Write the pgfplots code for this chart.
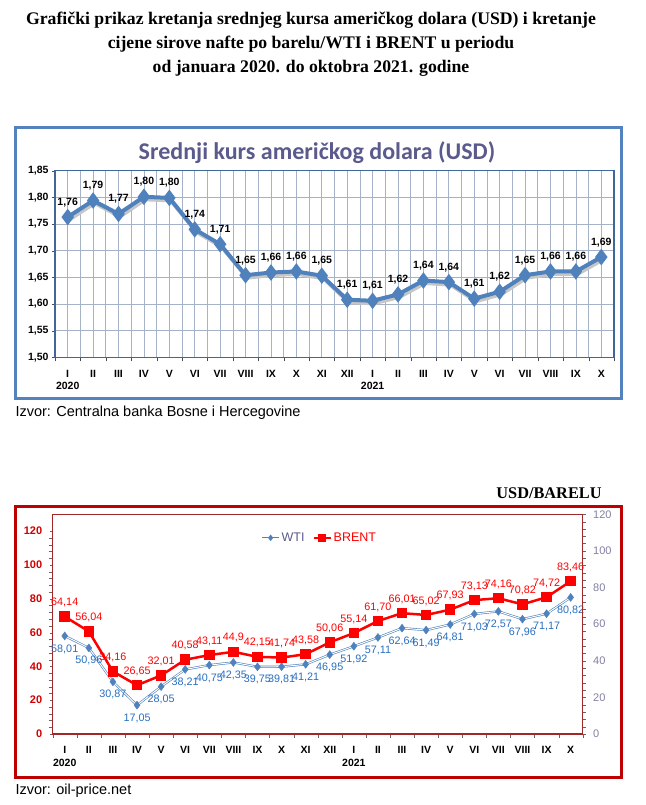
\documentclass[border=0pt]{standalone}
\usepackage{pgfplots}
\pgfplotsset{compat=1.18}
\usepackage{pgfplotstable}
\usepackage{fontspec}
\setmainfont{Liberation Sans}
\newfontfamily\titlefont{Liberation Serif}
\newfontfamily\calfont{Carlito}

\definecolor{usdblue}{RGB}{79,129,189}
\definecolor{framblue}{RGB}{84,130,190}
\definecolor{gridblue}{RGB}{165,178,200}
\definecolor{titlepurple}{RGB}{90,90,140}
\definecolor{framered}{RGB}{190,0,0}
\definecolor{axisred}{RGB}{160,40,40}
\definecolor{brentred}{RGB}{255,0,0}
\definecolor{wtiblue}{RGB}{79,129,189}
\definecolor{wtilabel}{RGB}{40,110,190}
\definecolor{rightgray}{RGB}{128,128,160}
\definecolor{leftred}{RGB}{210,0,0}

% srednji kurs USD (KM)
\pgfplotstableread{
x y lab
1 1.763 1,76
2 1.794 1,79
3 1.769 1,77
4 1.801 1,80
5 1.799 1,80
6 1.740 1,74
7 1.712 1,71
8 1.654 1,65
9 1.659 1,66
10 1.661 1,66
11 1.653 1,65
12 1.608 1,61
13 1.606 1,61
14 1.618 1,62
15 1.644 1,64
16 1.641 1,64
17 1.610 1,61
18 1.623 1,62
19 1.654 1,65
20 1.661 1,66
21 1.661 1,66
22 1.688 1,69
}\usdtable

\pgfplotstableread{
x y lab
1 58.01 58,01
2 50.96 50,96
3 30.87 30,87
4 17.05 17,05
5 28.05 28,05
6 38.21 38,21
7 40.75 40,75
8 42.35 42,35
9 39.75 39,75
10 39.81 39,81
11 41.21 41,21
12 46.95 46,95
13 51.92 51,92
14 57.11 57,11
15 62.64 62,64
16 61.49 61,49
17 64.81 64,81
18 71.03 71,03
19 72.57 72,57
20 67.96 67,96
21 71.17 71,17
22 80.82 80,82
}\wtitable

\pgfplotstableread{
x y lab
1 64.14 64,14
2 56.04 56,04
3 34.16 34,16
4 26.65 26,65
5 32.01 32,01
6 40.58 40,58
7 43.11 43,11
8 44.90 44,9
9 42.15 42,15
10 41.74 41,74
11 43.58 43,58
12 50.06 50,06
13 55.14 55,14
14 61.70 61,70
15 66.01 66,01
16 65.02 65,02
17 67.93 67,93
18 73.13 73,13
19 74.16 74,16
20 70.82 70,82
21 74.72 74,72
22 83.46 83,46
}\brenttable

\pgfplotsset{
  months/.style={
    xmin=0.5, xmax=22.5,
    xtick={1,...,22},
    xticklabels={{I\\2020},II,III,IV,V,VI,VII,VIII,IX,X,XI,XII,{I\\2021},II,III,IV,V,VI,VII,VIII,IX,X},
    xticklabel style={align=center, font=\fontsize{10.5}{12.5}\selectfont\bfseries, yshift=-6pt},
    major x tick style={draw=none},
    minor xtick={0.5,1.5,...,22.5},
    tick align=outside,
    major tick length=3pt,
    minor tick length=4pt,
  },
}

\begin{document}
\begin{tikzpicture}
\path[use as bounding box] (0,0) rectangle (645pt,-805pt);

\node[align=center, font=\titlefont\bfseries\fontsize{17.7}{24}\selectfont] at (311pt,-44pt)
  {Grafički prikaz kretanja srednjeg kursa američkog dolara (USD) i kretanje\\
   cijene sirove nafte po barelu/WTI i BRENT u periodu\\
   od januara 2020. do oktobra 2021. godine};

% ---- gornji grafikon ----
\draw[framblue, line width=3pt] (15pt,-128pt) rectangle (621pt,-398pt);
\node[font=\calfont\bfseries\fontsize{24}{28}\selectfont, titlepurple] at (317pt,-153pt)
  {Srednji kurs američkog dolara (USD)};

\begin{axis}[
  months,
  at={(55pt,-357.3pt)}, anchor=south west,
  scale only axis, width=559pt, height=186.6pt,
  ymin=1.5, ymax=1.85,
  ytick={1.5,1.55,1.6,1.65,1.7,1.75,1.8,1.85},
  xtick pos=bottom, ytick pos=left,
  /pgf/number format/fixed,
  /pgf/number format/fixed zerofill,
  /pgf/number format/precision=2,
  /pgf/number format/use comma,
  /pgf/number format/assume math mode=true,
  yticklabel style={font=\fontsize{10.5}{12}\selectfont\bfseries},
  xmajorgrids, xminorgrids, ymajorgrids,
  grid style={gridblue, line width=0.7pt},
  axis line style={usdblue!80!black, line width=1.2pt},
  tick style={black!70},
]
\addplot[gray!45, line width=4pt, transform canvas={shift={(1.5pt,-2.5pt)}}, forget plot]
  table[x=x, y=y] {\usdtable};
\addplot[usdblue, line width=4pt, mark=diamond*, mark size=5pt,
  nodes near coords, point meta=explicit symbolic,
  every node near coord/.append style={font=\fontsize{10.5}{12}\selectfont\bfseries, black, yshift=5pt}]
  table[x=x, y=y, meta=lab] {\usdtable};
\end{axis}

\node[anchor=west, font=\fontsize{14.5}{16}\selectfont] at (12pt,-413pt)
  {Izvor: Centralna banka Bosne i Hercegovine};

% ---- donji grafikon ----
\node[font=\titlefont\bfseries\fontsize{16.3}{18}\selectfont] at (549pt,-493pt) {USD/BARELU};
\draw[framered, line width=3pt] (15pt,-506.7pt) rectangle (621.7pt,-777.7pt);

\begin{axis}[
  months,
  at={(52.7pt,-734pt)}, anchor=south west,
  scale only axis, width=530pt, height=219.7pt,
  ymin=0, ymax=130,
  ytick={0,20,...,120}, minor y tick num=4,
  xtick pos=bottom, ytick pos=left,
  /pgf/number format/assume math mode=true,
  yticklabel style={font=\fontsize{11}{12}\selectfont\bfseries, leftred, xshift=-4pt},
  axis line style={axisred, line width=1.2pt},
  tick style={black!60},
  legend style={draw=none, fill=none, at={(0.504,0.893)}, anchor=center,
    font=\fontsize{12.5}{14}\selectfont, /tikz/every even column/.append style={column sep=6pt}},
  legend columns=2,
]
\addplot[wtiblue, line width=0.6pt, double=white, double distance=1pt, forget plot]
  table[x=x, y=y] {\wtitable};
\addplot[only marks, wtiblue, mark=diamond*, mark size=4pt, forget plot,
  nodes near coords, point meta=explicit symbolic,
  every node near coord/.append style={font=\fontsize{10.8}{12}\selectfont, wtilabel, anchor=north, yshift=-5pt}]
  table[x=x, y=y, meta=lab] {\wtitable};
\addlegendimage{wtiblue, line width=1pt, mark=diamond*, mark size=2.5pt}
\addlegendentry{\textcolor{titlepurple}{WTI}}
\addlegendimage{brentred, line width=2pt, mark=square*, mark size=3pt}
\addlegendentry{\textcolor{brentred}{BRENT}}
\end{axis}

\begin{axis}[
  at={(52.7pt,-734pt)}, anchor=south west,
  scale only axis, width=530pt, height=219.7pt,
  xmin=0.5, xmax=22.5, ymin=0, ymax=120,
  axis x line=none, axis y line*=right,
  ytick={0,20,...,120}, minor y tick num=4,
  tick align=outside, major tick length=3pt, minor tick length=3pt,
  /pgf/number format/assume math mode=true,
  yticklabel style={font=\fontsize{11}{12}\selectfont, rightgray, xshift=4pt},
  axis line style={axisred, line width=1.2pt},
  tick style={black!60},
]
\addplot[brentred, line width=2.5pt, mark=square*, mark size=4pt,
  nodes near coords, point meta=explicit symbolic,
  every node near coord/.append style={font=\fontsize{10.8}{12}\selectfont, brentred, yshift=5pt}]
  table[x=x, y=y, meta=lab] {\brenttable};
\end{axis}

\node[anchor=west, font=\fontsize{14.5}{16}\selectfont] at (12pt,-791pt) {Izvor: oil-price.net};
\end{tikzpicture}
\end{document}
